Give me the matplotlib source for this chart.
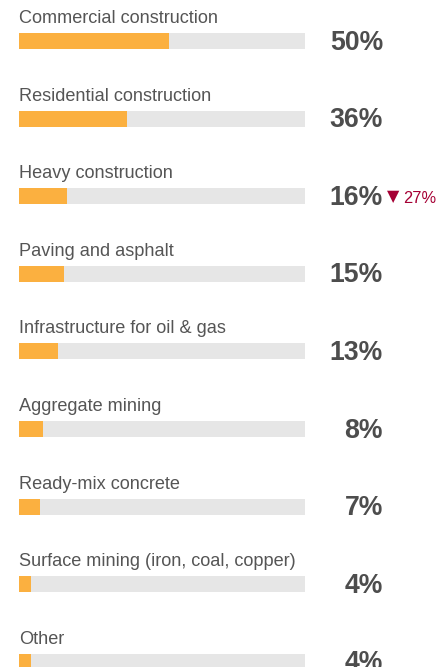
import matplotlib
matplotlib.use("Agg")
import matplotlib.pyplot as plt
from matplotlib.transforms import blended_transform_factory

categories = ["Commercial construction", "Residential construction", "Heavy construction",
              "Paving and asphalt", "Infrastructure for oil & gas", "Aggregate mining",
              "Ready-mix concrete", "Surface mining (iron, coal, copper)", "Other"]
values = [50, 36, 16, 15, 13, 8, 7, 4, 4]
value_labels = ["50%", "36%", "16%", "15%", "13%", "8%", "7%", "4%", "4%"]
change_index = 2
change_label = "27%"

W, H = 438, 667
fig = plt.figure(figsize=(W / 100, H / 100), dpi=100)
ax = fig.add_axes([19 / W, 0, 286 / W, 1])
track_max = 95.3
step = 77.6
top_c = 41
ax.set_xlim(0, track_max)
ax.set_ylim((H - top_c) / step, -top_c / step)
ax.axis("off")

ys = list(range(len(categories)))
bh = 16 / step
ax.barh(ys, [track_max] * len(ys), height=bh, color="#e6e6e6", left=0)
ax.barh(ys, values, height=bh, color="#fbb040")

font = "Liberation Sans"
trans = blended_transform_factory(fig.transFigure, ax.transData)
for i, (cat, lab) in enumerate(zip(categories, value_labels)):
    ax.text(0, i - bh / 2 - 10 / step, cat, ha="left", va="baseline",
            fontsize=13.1, color="#555555", family=font)
    ax.text(383 / W, i + 8.5 / step, lab, transform=trans, ha="right", va="baseline",
            fontsize=19.2, fontweight="bold", color="#4d4d4d", family=font)

i = change_index
ax.text(387 / W, i + 5 / step, "▼", transform=trans, ha="left", va="baseline",
        fontsize=11.5, color="#a50034", family="DejaVu Sans")
ax.text(403 / W, i + 6.5 / step, change_label, transform=trans, ha="left", va="baseline",
        fontsize=11.8, color="#a50034", family=font)

fig.savefig("out.png", dpi=100)
